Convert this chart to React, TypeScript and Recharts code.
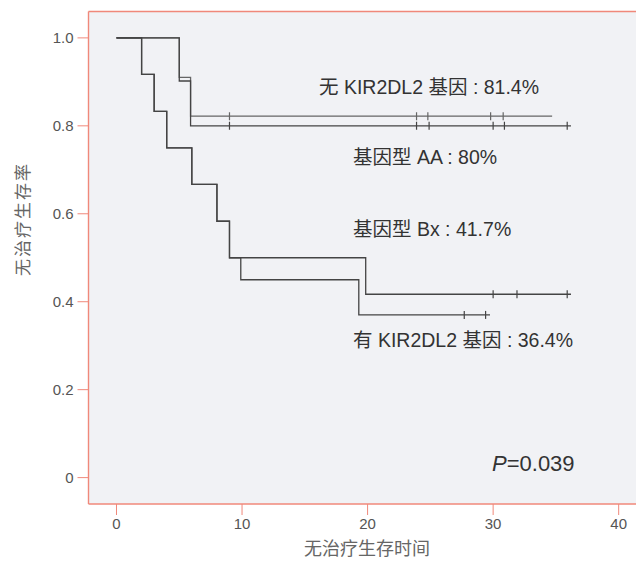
import {
  ComposedChart,
  Line,
  Scatter,
  XAxis,
  YAxis,
  CartesianGrid,
  ReferenceLine,
} from 'recharts';

// Kaplan-Meier step points (time, survival)
const aaTimes = [0, 5, 5.9, 36.2];
const aaSurv = [1, 0.902, 0.8, 0.8];
const aaCensorTimes = [9, 23.9, 24.9, 30, 30.9, 35.9];

const noKirTimes = [0, 5, 5.9, 34.7];
const noKirSurv = [1, 0.91, 0.822, 0.822];
const noKirCensorTimes = [9, 23.9, 24.8, 29.8, 30.8];

const bxTimes = [0, 2, 3, 4, 6, 8, 9, 19.85, 36.2];
const bxSurv = [1, 0.917, 0.833, 0.75, 0.667, 0.583, 0.5, 0.417, 0.417];
const bxCensorTimes = [30, 31.9, 35.9];

const kirTimes = [0, 2, 3, 4, 6, 8, 9, 9.9, 19.3, 29.75];
const kirSurv = [1, 0.917, 0.833, 0.75, 0.667, 0.583, 0.5, 0.45, 0.37, 0.37];
const kirCensorTimes = [27.7, 29.4];

const xTicks = [0, 10, 20, 30, 40];
const yTicks = [0, 0.2, 0.4, 0.6, 0.8, 1.0];

const labels = {
  noKir: '无 KIR2DL2 基因 : 81.4%',
  aa: '基因型 AA : 80%',
  bx: '基因型 Bx : 41.7%',
  kir: '有 KIR2DL2 基因 : 36.4%',
};

const toSteps = (times: number[], surv: number[]) =>
  times.map((t, i) => ({ t, s: surv[i] }));

// censor marks sit on the curve level at that time
const toCensors = (censors: number[], times: number[], surv: number[]) =>
  censors.map((t) => {
    let s = surv[0];
    times.forEach((tt, i) => {
      if (tt <= t) s = surv[i];
    });
    return { t, s };
  });

const FONT = "'Liberation Sans', 'Noto Sans CJK SC', sans-serif";
const RED = '#f0887a';

const CensorTick = (props: any) => {
  const { cx, cy, stroke } = props;
  if (cx == null || cy == null) return null;
  return <line x1={cx} y1={cy - 4} x2={cx} y2={cy + 4} stroke={stroke} strokeWidth={1.2} />;
};

export default function App() {
  const series = [
    { key: 'noKir', data: toSteps(noKirTimes, noKirSurv), censor: toCensors(noKirCensorTimes, noKirTimes, noKirSurv), color: '#666' },
    { key: 'aa', data: toSteps(aaTimes, aaSurv), censor: toCensors(aaCensorTimes, aaTimes, aaSurv), color: '#444' },
    { key: 'bx', data: toSteps(bxTimes, bxSurv), censor: toCensors(bxCensorTimes, bxTimes, bxSurv), color: '#444' },
    { key: 'kir', data: toSteps(kirTimes, kirSurv), censor: toCensors(kirCensorTimes, kirTimes, kirSurv), color: '#444' },
  ];

  const textStyle = { fontFamily: FONT, fontSize: 19.5, fill: '#333' };

  return (
    <div style={{ position: 'absolute', left: 0, top: 0, width: 636, height: 562, background: '#fff' }}>
      <ComposedChart
        width={636}
        height={562}
        margin={{ top: 11.5, right: 0, bottom: 18, left: 0.5 }}
      >
        <CartesianGrid fill="#f1f2f5" horizontal={false} vertical={false} />
        <XAxis
          dataKey="t"
          type="number"
          domain={[-2.23, 41.38]}
          ticks={xTicks}
          allowDataOverflow
          height={40}
          tickSize={11}
          tickMargin={3}
          axisLine={{ stroke: RED, strokeWidth: 1.6 }}
          tickLine={{ stroke: RED }}
          tick={{ fontSize: 15, fill: '#555', fontFamily: FONT }}
        />
        <YAxis
          dataKey="s"
          type="number"
          domain={[-0.06, 1.06]}
          ticks={yTicks}
          allowDataOverflow
          width={88}
          tickSize={11}
          tickMargin={4}
          axisLine={{ stroke: RED, strokeWidth: 1.4 }}
          tickLine={{ stroke: RED }}
          tick={{ fontSize: 15, fill: '#555', fontFamily: FONT }}
          tickFormatter={(v: number) => (v === 0 ? '0' : v.toFixed(1))}
        />
        <ReferenceLine y={1.06} stroke={RED} strokeWidth={1.4} />
        {series.map((s) => (
          <Line
            key={s.key}
            data={s.data}
            dataKey="s"
            type="stepAfter"
            stroke={s.color}
            strokeWidth={1.3}
            dot={false}
            activeDot={false}
            isAnimationActive={false}
          />
        ))}
        {series.map((s) => (
          <Scatter
            key={s.key + '-c'}
            data={s.censor}
            dataKey="s"
            fill={s.color}
            shape={(p: any) => <CensorTick {...p} stroke={s.color} />}
            isAnimationActive={false}
          />
        ))}
        <text x={319} y={87} dominantBaseline="central" {...textStyle}>{labels.noKir}</text>
        <text x={353} y={157} dominantBaseline="central" {...textStyle}>{labels.aa}</text>
        <text x={353} y={229} dominantBaseline="central" {...textStyle}>{labels.bx}</text>
        <text x={353} y={340} dominantBaseline="central" {...textStyle}>{labels.kir}</text>
        <text x={492} y={463} dominantBaseline="central" fontFamily={FONT} fontSize={22} fill="#333">
          <tspan fontStyle="italic">P</tspan>=0.039
        </text>
        <text x={367} y={549} textAnchor="middle" dominantBaseline="central" fontFamily={FONT} fontSize={18} fill="#666">
          无治疗生存时间
        </text>
        <text
          x={23}
          y={219}
          textAnchor="middle"
          dominantBaseline="central"
          transform="rotate(-90, 23, 219)"
          fontFamily={FONT}
          fontSize={17}
          letterSpacing={2}
          fill="#666"
        >
          无治疗生存率
        </text>
      </ComposedChart>
    </div>
  );
}
